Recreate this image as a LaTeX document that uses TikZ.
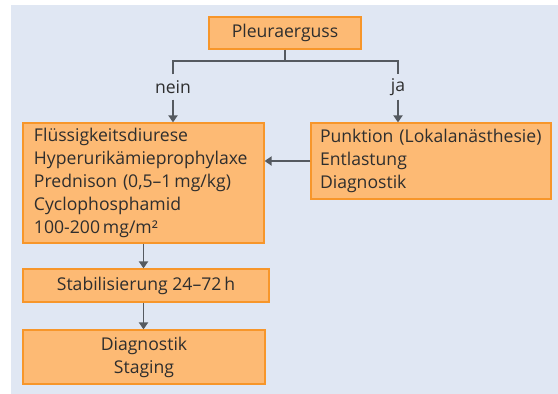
\documentclass[tikz,border=0pt]{standalone}
\usepackage{fontspec}
\setmainfont{Open Sans}
\usetikzlibrary{arrows.meta}
\definecolor{panelbg}{HTML}{E0E7F3}
\definecolor{boxfill}{HTML}{FDBA74}
\definecolor{boxline}{HTML}{F7962A}
\definecolor{linegray}{HTML}{555A60}
\definecolor{textgray}{HTML}{2E2E2E}
\begin{document}
\begin{tikzpicture}[x=1pt,y=-1pt,
  box/.style={draw=boxline,fill=boxfill,line width=1.2pt,inner sep=0pt,text=textgray,font=\fontsize{17.6}{23}\selectfont},
  lbl/.style={inner sep=0pt,minimum height=25pt,text=textgray,font=\fontsize{17.6}{23}\selectfont},
  conn/.style={draw=linegray,line width=1.8pt},
  arr/.style={conn,-{Triangle[length=7pt,width=9pt]}}]
\useasboundingbox (0,0) rectangle (558,394);
\fill[panelbg] (11,5) rectangle (558,394);
\node[box,minimum width=152pt,minimum height=32pt] (P) at (285,33) {Pleuraerguss};
\node[box,minimum width=241pt,minimum height=120pt,text width=219pt,align=left] (L) at (143.5,183)
  {Flüssigkeitsdiurese\\Hyperurikämieprophylaxe\\Prednison (0,5–1\,mg/kg)\\Cyclophosphamid\\100-200\,mg/m²};
\node[box,minimum width=240pt,minimum height=76pt,text width=222pt,align=left] (R) at (431,161)
  {Punktion (Lokalanästhesie)\\Entlastung\\Diagnostik};
\node[box,minimum width=246pt,minimum height=33pt] (S) at (146,285.5) {Stabilisierung 24–72\,h};
\node[box,minimum width=242pt,minimum height=54pt,align=center] (D) at (144,357) {Diagnostik\\Staging};
\node[lbl] (nein) at (173,87) {nein};
\node[lbl] (ja) at (398,87) {ja};
\coordinate (sl) at (173,61);
\coordinate (sr) at (398,61);
\draw[conn] (P.south) -- (P.south |- sl);
\draw[conn] (nein.north) -- (sl) -- (sr) -- (ja.north);
\draw[arr] (nein.south) -- (nein.south |- L.north);
\draw[arr] (ja.south) -- (ja.south |- R.north);
\draw[arr] (R.west) -- (L.east |- R.west);
\draw[arr] (L.south) -- (L.south |- S.north);
\draw[arr] (S.south -| L.south) -- (L.south |- D.north);
\end{tikzpicture}
\end{document}
